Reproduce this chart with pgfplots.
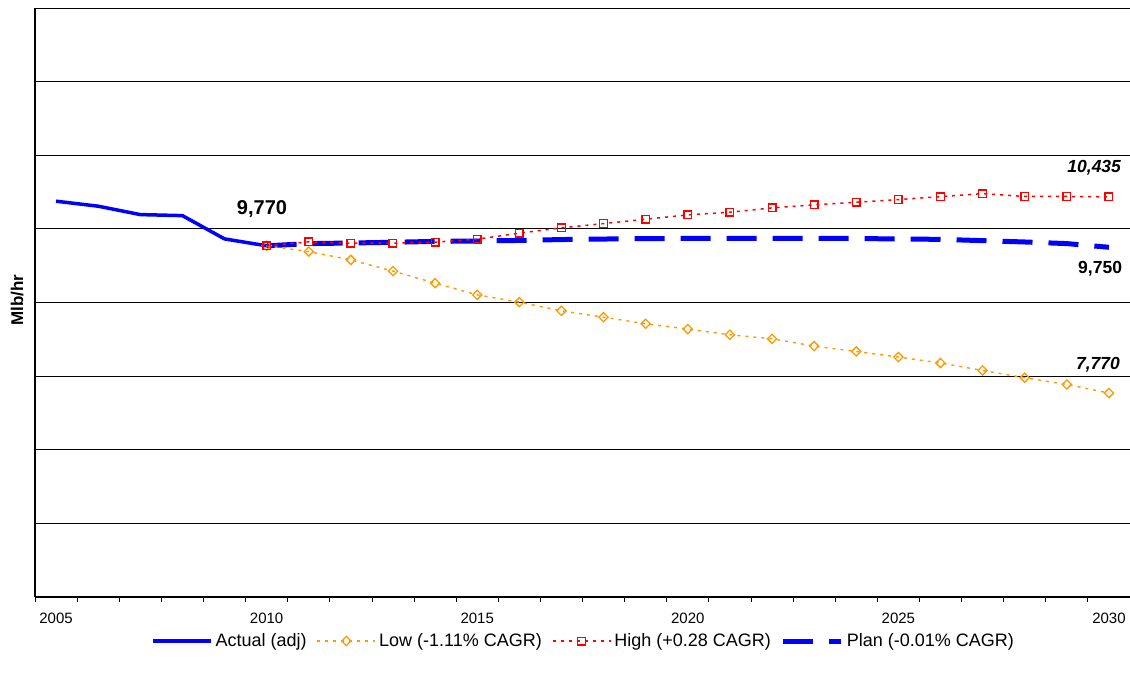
\documentclass[border=0pt]{standalone}
\usepackage{fontspec}
\setmainfont{Liberation Sans}
\usepackage{pgfplots}
\pgfplotsset{compat=1.18}
\definecolor{xlblue}{RGB}{0,0,255}
\definecolor{xlred}{RGB}{255,0,0}
\definecolor{xlorange}{RGB}{255,153,0}
\pgfdeclareplotmark{xldiamond}{%
  \pgfpathmoveto{\pgfqpoint{0pt}{\pgfplotmarksize}}%
  \pgfpathlineto{\pgfqpoint{\pgfplotmarksize}{0pt}}%
  \pgfpathlineto{\pgfqpoint{0pt}{-\pgfplotmarksize}}%
  \pgfpathlineto{\pgfqpoint{-\pgfplotmarksize}{0pt}}%
  \pgfpathclose
  \pgfusepathqstroke}
\begin{document}
\begin{tikzpicture}
\path[use as bounding box] (-35bp,-86bp) rectangle (1095bp,597bp);
\begin{axis}[
  at={(0,0)}, anchor=south west,
  scale only axis, width=1095bp, height=589bp,
  xmin=-0.5, xmax=25.5, ymin=5000, ymax=13000,
  clip=false,
  axis x line*=bottom, axis y line*=left,
  axis line style={black, line width=1.2bp},
  xtick={-0.5,0.5,...,25.5}, xticklabels={},
  extra x ticks={0,5,10,15,20,25},
  extra x tick labels={2005,2010,2015,2020,2025,2030},
  extra x tick style={major tick length=0pt, tick label style={yshift=-13bp}},
  ytick={5000,6000,...,13000}, yticklabels={},
  ytick style={draw=none},
  tick align=outside, major tick length=5bp,
  xtick style={black, line width=0.8bp},
  ymajorgrids, grid style={black, line width=0.8bp},
  tick label style={font=\fontsize{15bp}{18bp}\selectfont},
  ylabel={Mlb/hr},
  every axis y label/.style={at={(axis description cs:-0.0164,0.504)}, anchor=center, rotate=90, font=\bfseries\fontsize{17bp}{20bp}\selectfont},
  legend columns=4,
  legend style={at={(axis description cs:0.5005,-0.0747)}, anchor=center, draw=none, fill=none,
    font=\fontsize{18bp}{21bp}\selectfont, column sep=2bp,
    /tikz/every even column/.append style={column sep=9bp},
    nodes={inner sep=1bp}},
  legend image code/.code={\draw[mark repeat=2,mark phase=2,#1] plot coordinates {(0bp,0bp) (29bp,0bp) (58bp,0bp)};},
]
\addplot[xlblue, line width=3.5bp, mark=none] coordinates {
(0,10376) (1,10308) (2,10194) (3,10180) (4,9864) (5,9770)};
\addlegendentry{Actual (adj)}
\addplot[xlblue, line width=5bp, dash pattern=on 30bp off 16bp, mark=none, forget plot] coordinates {
(5,9770) (6,9800) (7,9808) (8,9818) (9,9830) (10,9835) (11,9843) (12,9855) (13,9862) (14,9868)
(15,9870) (16,9872) (17,9872) (18,9872) (19,9870) (20,9862) (21,9858) (22,9840) (23,9822) (24,9800) (25,9750)};
\addplot[xlorange, line width=1.4bp, dash pattern=on 3bp off 5bp, mark=xldiamond, mark size=4.6bp, mark options={solid, line width=1.3bp}] coordinates {
(5,9770) (6,9692) (7,9579) (8,9426) (9,9263) (10,9104) (11,9005) (12,8887) (13,8801) (14,8711)
(15,8639) (16,8562) (17,8507) (18,8408) (19,8335) (20,8259) (21,8178) (22,8077) (23,7978) (24,7887) (25,7770)};
\addlegendentry{Low (-1.11\% CAGR)}
\addplot[xlred, line width=1.5bp, dash pattern=on 3bp off 5bp, mark=square, mark size=3.8bp, mark options={solid, line width=1.4bp}] coordinates {
(5,9770) (6,9824) (7,9806) (8,9806) (9,9820) (10,9860) (11,9942) (12,10014) (13,10072) (14,10131)
(15,10190) (16,10226) (17,10285) (18,10326) (19,10362) (20,10398) (21,10438) (22,10479) (23,10440) (24,10440) (25,10435)};
\addlegendentry{High (+0.28 CAGR)}
\addlegendimage{xlblue, line width=5bp, dash pattern=on 30bp off 16bp}
\addlegendentry{Plan (-0.01\% CAGR)}
\node[font=\bfseries\fontsize{20bp}{24bp}\selectfont] at (axis cs:4.89,10271) {9,770};
\node[font=\bfseries\itshape\fontsize{17.5bp}{21bp}\selectfont] at (axis cs:24.65,10828) {10,435};
\node[font=\bfseries\fontsize{17.5bp}{21bp}\selectfont] at (axis cs:24.79,9457) {9,750};
\node[font=\bfseries\itshape\fontsize{17.5bp}{21bp}\selectfont] at (axis cs:24.74,8155) {7,770};
\end{axis}
\end{tikzpicture}
\end{document}
